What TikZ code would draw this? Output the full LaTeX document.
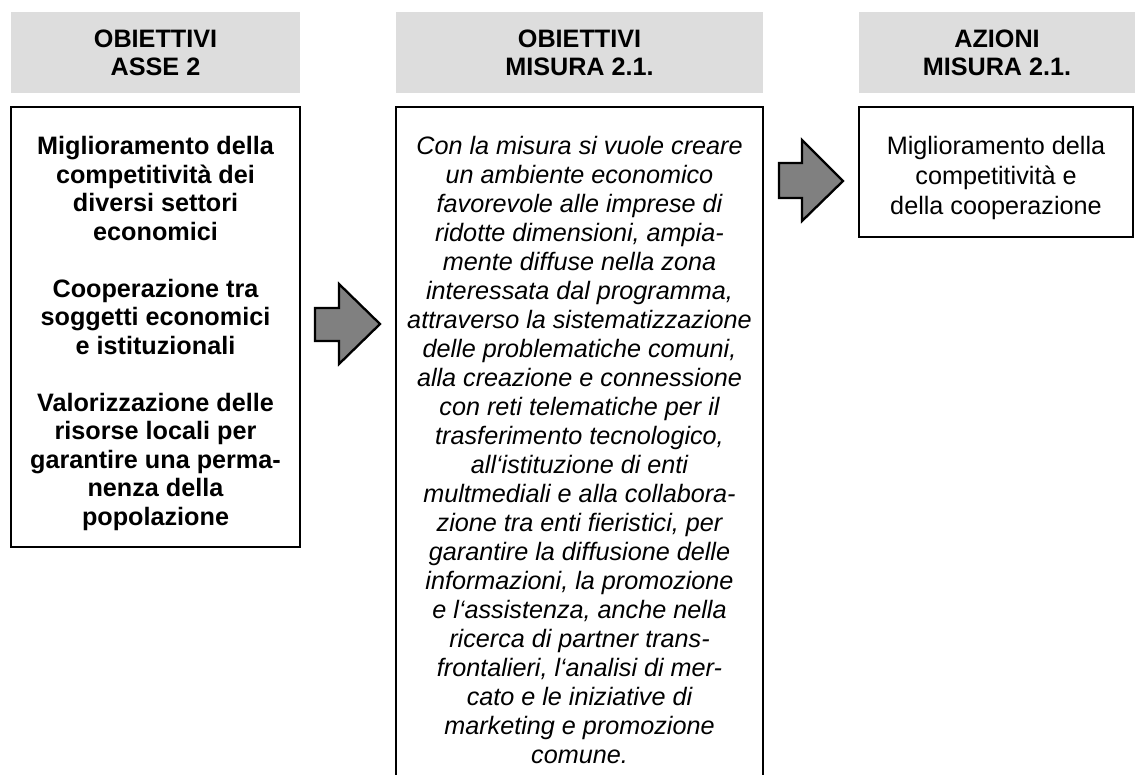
\documentclass[tikz,border=0pt]{standalone}
\usepackage{fontspec}
\setmainfont{Liberation Sans}
\definecolor{hdrgray}{HTML}{DDDDDD}
\definecolor{arrgray}{HTML}{808080}
\newcommand\pxu{0.4762pt}
\begin{document}
\begin{tikzpicture}[x=0.4762pt,y=-0.4762pt,
  hdr/.style={fill=hdrgray, inner sep=0pt, align=center,
    font=\bfseries\fontsize{12}{13.3}\selectfont},
  frame/.style={draw=black, line width=0.8pt, inner sep=0pt},
  txt/.style={inner sep=0pt, align=center, anchor=north},
  blockarrow/.style={draw=black, line width=1.1pt, fill=arrgray, line join=miter}]
\useasboundingbox (0,0) rectangle (1135,774);

% headers
\node[hdr, minimum width=289*\pxu, minimum height=81*\pxu] (h1) at (155.5,52.5) {OBIETTIVI\\ASSE 2};
\node[hdr, minimum width=367*\pxu, minimum height=81*\pxu] (h2) at (579.5,52.5) {OBIETTIVI\\MISURA 2.1.};
\node[hdr, minimum width=276*\pxu, minimum height=81*\pxu] (h3) at (997,52.5) {AZIONI\\MISURA 2.1.};

% frames
\node[frame, minimum width=289*\pxu, minimum height=440*\pxu] (b1) at (155.5,327) {};
\node[frame, minimum width=367*\pxu, minimum height=693*\pxu] (b2) at (579.5,453.5) {};
\node[frame, minimum width=274*\pxu, minimum height=130*\pxu] (b3) at (996,172) {};

% texts
\node[txt, font=\bfseries\fontsize{12}{13.57}\selectfont] (t1) at ([yshift=-28.1*\pxu]b1.north)
{\strut Miglioramento della\\competitività dei\\diversi settori\\economici\\[13.57pt]Cooperazione tra\\soggetti economici\\e istituzionali\\[13.57pt]Valorizzazione delle\\risorse locali per\\garantire una perma-\\nenza della\\popolazione};

\node[txt, font=\itshape\fontsize{12}{13.8}\selectfont] (t2) at ([yshift=-27.7*\pxu]b2.north)
{\strut Con la misura si vuole creare\\un ambiente economico\\favorevole alle imprese di\\ridotte dimensioni, ampia-\\mente diffuse nella zona\\interessata dal programma,\\attraverso la sistematizzazione\\delle problematiche comuni,\\alla creazione e connessione\\con reti telematiche per il\\trasferimento tecnologico,\\all‘istituzione di enti\\multmediali e alla collabora-\\zione tra enti fieristici, per\\garantire la diffusione delle\\informazioni, la promozione\\e l‘assistenza, anche nella\\ricerca di partner trans-\\frontalieri, l‘analisi di mer-\\cato e le iniziative di\\marketing e promozione\\comune.};

\node[txt, font=\fontsize{12}{14.29}\selectfont] (t3) at ([yshift=-27*\pxu]b3.north)
{\strut Miglioramento della\\competitività e\\della cooperazione};

% block arrows
\draw[blockarrow] (315,308) -- (339,308) -- (339,284) -- (380,324) -- (339,364) -- (339,341) -- (315,341) -- cycle;
\draw[blockarrow] (779,163) -- (802,163) -- (802,140) -- (843,181) -- (802,221) -- (802,198) -- (779,198) -- cycle;
\end{tikzpicture}
\end{document}
